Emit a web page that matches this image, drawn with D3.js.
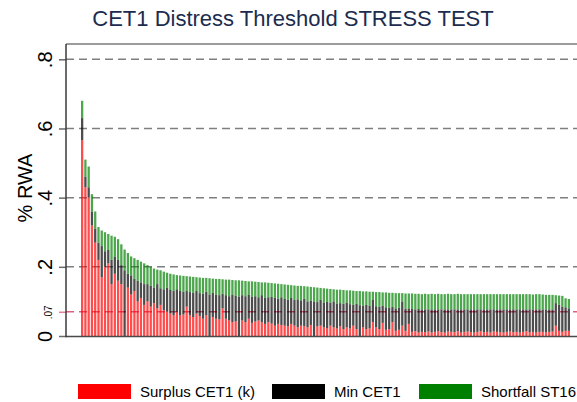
<!DOCTYPE html>
<html>
<head>
<meta charset="utf-8">
<script src="https://cdn.jsdelivr.net/npm/d3@7"></script>
<style>
  body { margin: 0; background: #fff; }
  svg { display: block; font-family: "Liberation Sans", Arial, sans-serif; }
</style>
</head>
<body>
<svg id="chart"></svg>
<script>
// Series values, one per bank, sorted by total
const surplus = [
  .566, .43, .40, .32, .27, .22, .17, .20, .21, .15,
  .18, .16, .15, 0, .14, .12, .13, .10, .11, .09,
  .10, .085, .095, .08, .09, .075, .07, .065, .06, .07,
  .06, .062, .085, .06, .055, .065, .058, .05, .06, 0,
  .055, .05, .048, .08, .05, .045, .04, .042, 0, .045,
  .04, .05, .038, .042, .045, .04, .035, .04, .036, .03,
  .035, .032, .03, .028, .035, .03, .025, .03, .028, .025,
  .032, 0, .028, .03, .025, .022, .03, .025, .022, .028,
  .02, .025, .022, .03, .02, 0, .025, .02, .022, .04,
  .025, .02, .038, .018, .02, .04, .015, .018, .03, .015,
  .035, .012, .014, .01, .012, .011, .013, .01, .012, .014,
  .011, .01, .013, .012, .011, .014, .01, .012, .013, .011,
  .01, .012, .014, .011, .012, .01, .013, .012, .011, .01,
  .012, .013, .011, .012, .01, .012, .014, .011, .012, .01,
  .012, .012, .011, .012, .013, .03, .015, .012, .015, .015
];
const minCet1 = [
  .064, .03, .03, .04, .04, .05, .09, .045, .04, .07,
  .05, .06, .055, .19, .04, .055, .035, .06, .045, .06,
  .05, .06, .045, .07, .048, .06, .07, .068, .07, .065,
  .07, .066, .045, .067, .07, .065, .066, .072, .068, .12,
  .07, .07, .07, .042, .068, .07, .08, .075, .114, .073,
  .075, .07, .075, .073, .067, .078, .075, .072, .077, .08,
  .073, .08, .077, .077, .075, .074, .081, .073, .08, .075,
  .07, .10, .07, .074, .072, .077, .066, .075, .072, .067,
  .073, .072, .07, .06, .073, .089, .063, .07, .065, .064,
  .061, .065, .05, .065, .062, .044, .065, .064, .07, .064,
  .045, .066, .063, .068, .065, .066, .064, .067, .065, .063,
  .066, .067, .064, .065, .066, .063, .067, .065, .064, .066,
  .067, .065, .063, .066, .065, .067, .064, .065, .066, .067,
  .065, .064, .066, .065, .067, .065, .063, .066, .065, .067,
  .065, .065, .066, .065, .064, .065, .075, .073, .068, .065
];
const shortfall = [
  .05, .05, .06, .05, .05, .045, .045, .055, .045, .07,
  .057, .06, .06, .06, .06, .055, .06, .06, .06, .06,
  .055, .055, .055, .042, .052, .051, .043, .047, .048, .041,
  .045, .046, .043, .045, .046, .04, .045, .046, .04, .047,
  .041, .045, .047, .042, .045, .048, .042, .044, .047, .042,
  .044, .038, .045, .042, .044, .037, .045, .042, .04, .042,
  .043, .038, .042, .043, .037, .042, .039, .042, .036, .043,
  .04, .041, .042, .035, .041, .038, .04, .035, .04, .039,
  .04, .035, .04, .041, .037, .041, .041, .039, .041, .024,
  .041, .042, .038, .043, .043, .041, .044, .042, .024, .044,
  .043, .045, .045, .044, .044, .045, .044, .045, .044, .045,
  .044, .044, .045, .044, .044, .045, .044, .044, .044, .044,
  .044, .044, .044, .044, .044, .044, .044, .044, .044, .044,
  .044, .044, .044, .044, .044, .044, .044, .044, .043, .044,
  .044, .043, .042, .042, .042, .023, .027, .031, .026, .027
];

const seriesKeys = ["surplus", "min", "shortfall"];
const seriesLabels = ["Surplus CET1 (k)", "Min CET1", "Shortfall ST16"];
const seriesColors = ["#ff0000", "#000000", "#008000"];

const yTicks = [0, 0.07, 0.2, 0.4, 0.6, 0.8];
const yTickLabels = ["0", ".07", ".2", ".4", ".6", ".8"];
const gridValues = [0.2, 0.4, 0.6, 0.8];
const threshold = 0.07;

// Layout
const width = 577;
const height = 402;
const plot = { left: 66, right: 590, top: 44, bottom: 336 };

const svg = d3.select("#chart")
  .attr("width", width)
  .attr("height", height);

const rows = surplus.map((d, i) => ({
  bank: i,
  surplus: d,
  min: minCet1[i],
  shortfall: shortfall[i]
}));

const x = d3.scaleBand()
  .domain(rows.map(d => d.bank))
  .range([81, 570])
  .paddingInner(0.3)
  .paddingOuter(0);

const y = d3.scaleLinear()
  .domain([0, 0.8])
  .range([plot.bottom, 59.3]);

const stacked = d3.stack().keys(seriesKeys)(rows);

// Title
svg.append("text")
  .attr("x", 293)
  .attr("y", 26)
  .attr("text-anchor", "middle")
  .style("font-size", "22px")
  .style("fill", "#1c2c4e")
  .text("CET1 Distress Threshold STRESS TEST");

// Grid lines
svg.append("g")
  .selectAll("line")
  .data(gridValues)
  .enter().append("line")
  .attr("x1", plot.left)
  .attr("x2", plot.right)
  .attr("y1", d => y(d))
  .attr("y2", d => y(d))
  .attr("stroke", "#7f7f7f")
  .attr("stroke-width", 1.5)
  .attr("stroke-dasharray", "8,5");

svg.append("line")
  .attr("x1", plot.left)
  .attr("x2", plot.right)
  .attr("y1", y(threshold))
  .attr("y2", y(threshold))
  .attr("stroke", "#e0607e")
  .attr("stroke-width", 1.5)
  .attr("stroke-dasharray", "8,5");

// Bars (lightened to match the thin-bar rendering of the original)
svg.append("g")
  .selectAll("g")
  .data(stacked)
  .enter().append("g")
  .attr("fill", (d, i) => seriesColors[i])
  .attr("fill-opacity", 0.7)
  .selectAll("rect")
  .data(d => d)
  .enter().append("rect")
  .attr("x", d => x(d.data.bank))
  .attr("y", d => y(d[1]))
  .attr("width", x.bandwidth())
  .attr("height", d => y(d[0]) - y(d[1]));

// Y axis
const yAxis = svg.append("g")
  .attr("transform", `translate(${plot.left},0)`)
  .call(d3.axisLeft(y)
    .tickValues(yTicks)
    .tickFormat((d, i) => yTickLabels[i])
    .tickSize(7)
    .tickSizeOuter(0));

yAxis.select(".domain").remove();
yAxis.selectAll(".tick line")
  .attr("stroke", (d) => d === threshold ? "#e0809a" : "#6a6a6a")
  .attr("stroke-width", 1.5);
yAxis.selectAll(".tick text")
  .attr("x", null)
  .attr("dy", null)
  .attr("transform", "translate(-14,0) rotate(-90)")
  .attr("text-anchor", "middle")
  .style("font-family", "'Liberation Sans', Arial, sans-serif")
  .style("font-size", d => d === threshold ? "10px" : "20px")
  .style("fill", "#000");

svg.append("text")
  .attr("transform", "translate(32,188) rotate(-90)")
  .attr("text-anchor", "middle")
  .style("font-size", "20px")
  .style("fill", "#000")
  .text("% RWA");

// Plot frame
svg.append("line")
  .attr("x1", plot.left).attr("x2", plot.right)
  .attr("y1", plot.top).attr("y2", plot.top)
  .attr("stroke", "#7a7a7a").attr("stroke-width", 1.5);
svg.append("line")
  .attr("x1", plot.left).attr("x2", plot.right)
  .attr("y1", plot.bottom + 0.5).attr("y2", plot.bottom + 0.5)
  .attr("stroke", "#4a4a4a").attr("stroke-width", 1.5);
svg.append("line")
  .attr("x1", plot.left).attr("x2", plot.left)
  .attr("y1", plot.top).attr("y2", plot.bottom + 1.2)
  .attr("stroke", "#3a3a3a").attr("stroke-width", 1.5);

// Legend
const legendX = [78, 272, 419];
const legend = svg.append("g")
  .selectAll("g")
  .data(seriesLabels)
  .enter().append("g")
  .attr("transform", (d, i) => `translate(${legendX[i]},384)`);

legend.append("rect")
  .attr("width", 53)
  .attr("height", 15)
  .attr("fill", (d, i) => seriesColors[i]);

legend.append("text")
  .attr("x", 62)
  .attr("y", 13)
  .style("font-size", "15px")
  .style("fill", "#000")
  .text(d => d);
</script>
</body>
</html>
